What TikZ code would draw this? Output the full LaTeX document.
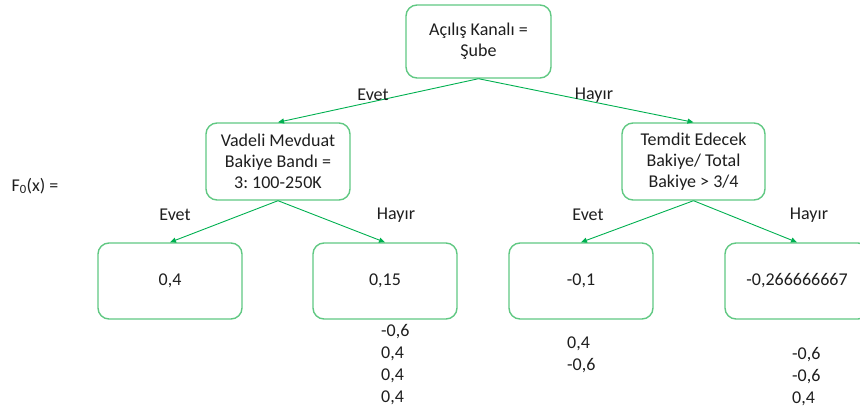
\documentclass[tikz,border=0pt]{standalone}
\usepackage{fontspec}
\setmainfont{Carlito}
\usetikzlibrary{arrows.meta}
\frenchspacing
\definecolor{edgegreen}{RGB}{0,176,80}
\definecolor{boxgreen}{RGB}{96,200,130}
\definecolor{txt}{RGB}{30,30,30}
\tikzset{
  decision/.style={draw=boxgreen, line width=1.4pt, rounded corners=11pt, align=center,
    minimum width=144pt, minimum height=76pt, inner sep=0pt, text=txt,
    font=\fontsize{18}{21}\selectfont},
  leaf/.style={decision},
  link/.style={draw=edgegreen, line width=0.9pt, -{Triangle[length=6pt,width=5pt]}},
  lbl/.style={text=txt, font=\fontsize{18}{21}\selectfont, inner sep=0pt},
  vals/.style={text=txt, font=\fontsize{18}{22}\selectfont, inner sep=0pt, anchor=north west, align=left}
}
\begin{document}
\begin{tikzpicture}[x=1pt, y=-1pt]
\useasboundingbox (0,0) rectangle (860,412);
\begin{scope}
\clip (0,0) rectangle (860,412);
% split nodes
\node[decision, minimum width=145pt, minimum height=73pt] (root) at (478.5,41.5) {Açılış Kanalı =\\Şube};
\node[decision, minimum height=77pt] (vmb) at (278,161.5) {Vadeli Mevduat\\Bakiye Bandı =\\3: 100-250K};
\node[decision, minimum width=143pt, minimum height=77pt] (tem) at (693.5,161.5) {Temdit Edecek\\Bakiye/ Total\\Bakiye > 3/4};
% leaves
\node[leaf] (l1) at (170,281) {0,4};
\node[leaf] (l2) at (385,281) {0,15};
\node[leaf] (l3) at (581,281) {-0,1};
\node[leaf] (l4) at (797,281) {-0,266666667};
% connectors
\draw[link] (root.south) -- (vmb.north);
\draw[link] (root.south) -- (tem.north);
\draw[link] (vmb.south) -- (l1.north);
\draw[link] (vmb.south) -- (l2.north);
\draw[link] (tem.south) -- (l3.north);
\draw[link] (tem.south) -- (l4.north);
% branch labels
\node[lbl] (e1) at (373,95) {Evet};
\node[lbl] (h1) at (594,95) {Hayır};
\node[lbl] (e2) at (175,215) {Evet};
\node[lbl] (h2) at (396,215) {Hayır};
\node[lbl] (e3) at (588,215) {Evet};
\node[lbl] (h3) at (809,215) {Hayır};
% initial prediction
\node[lbl] (f0) at (35,186) {F\textsubscript{0}(x) =};
% residuals under leaves
\node[vals] (r2) at (381,324.5) {-0,6\\0,4\\0,4\\0,4};
\node[vals] (r3) at (567,336.5) {0,4\\-0,6};
\node[vals] (r4) at (792,347.5) {-0,6\\-0,6\\0,4};
\end{scope}
\end{tikzpicture}
\end{document}
